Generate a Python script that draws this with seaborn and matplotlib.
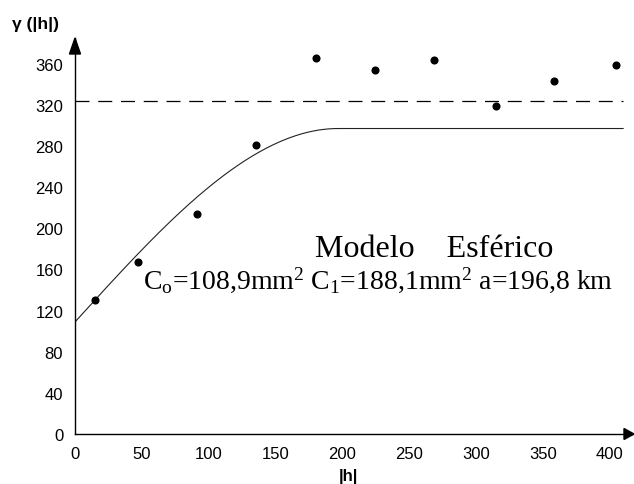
import numpy as np
import pandas as pd
import matplotlib
matplotlib.use("Agg")
import matplotlib.pyplot as plt
from matplotlib.patches import Polygon
import seaborn as sns

# Experimental semivariogram (lag |h| in km, semivariance in mm^2)
lags = [14.7, 46.9, 91.2, 135.1, 180.2, 224.3, 268.2, 314.5, 358.4, 404.5]
gamma = [130.0, 167.0, 213.8, 280.5, 365.5, 354.2, 363.9, 318.8, 343.2, 358.7]

# Sample variance (dashed reference line)
sample_variance = 324.0

# Fitted spherical model parameters
C0 = 108.9
C1 = 188.1
a_range = 196.8
h_max = 410.0

x_ticks = [0, 50, 100, 150, 200, 250, 300, 350, 400]
y_ticks = [0, 40, 80, 120, 160, 200, 240, 280, 320, 360]

sns.set_style("white")
plt.rcParams["font.family"] = ["Liberation Sans", "DejaVu Sans"]
plt.rcParams["text.color"] = "black"
plt.rcParams["mathtext.fontset"] = "custom"
plt.rcParams["mathtext.rm"] = "Liberation Serif"
plt.rcParams["mathtext.it"] = "Liberation Serif:italic"


def spherical(h, c0, c1, a):
    h = np.asarray(h, dtype=float)
    r = np.clip(h / a, 0, 1)
    return c0 + c1 * (1.5 * r - 0.5 * r ** 3)


h_model = np.linspace(0, h_max, 400)
model_df = pd.DataFrame({"h": h_model, "gamma": spherical(h_model, C0, C1, a_range)})
var_df = pd.DataFrame({"h": [0, h_max], "gamma": [sample_variance, sample_variance]})
pts_df = pd.DataFrame({"h": lags, "gamma": gamma})

fig = plt.figure(figsize=(6.34, 4.85), dpi=100)
ax = fig.add_axes([75 / 634, 50 / 485, 559 / 634, 396 / 485])

sns.lineplot(data=var_df, x="h", y="gamma", ax=ax, color="black", lw=0.9,
             linestyle=(0, (11.2, 7.0)))
sns.lineplot(data=model_df, x="h", y="gamma", ax=ax, color="#222222", lw=0.8)
sns.scatterplot(data=pts_df, x="h", y="gamma", ax=ax, color="black", s=34,
                edgecolor="black", linewidth=0, zorder=5)

ax.set_xlim(0, 418)
ax.set_ylim(0, 385)
ax.set_xticks(x_ticks)
ax.set_yticks(y_ticks)
ax.set_xticklabels([str(t) for t in x_ticks])
ax.set_yticklabels([str(t) for t in y_ticks])
ax.tick_params(axis="both", direction="in", length=4.5, width=0.8, color="black",
               labelsize=12, labelcolor="black")
ax.tick_params(axis="y", pad=8.5)
ax.tick_params(axis="x", pad=8.5)
ax.set_xlabel("")
ax.set_ylabel("")

for side in ["top", "right"]:
    ax.spines[side].set_visible(False)
for side in ["left", "bottom"]:
    ax.spines[side].set_color("black")
    ax.spines[side].set_linewidth(1.0)

# Arrow heads at the ends of both axes (axes fraction coordinates)
hx = 5.5 / 559
hy = 16 / 396
ax.add_patch(Polygon([[0 - hx, 1 - hy], [0 + hx, 1 - hy], [0, 1.0]], closed=True,
                     transform=ax.transAxes, color="black", clip_on=False, zorder=6))
wy = 5.5 / 396
wx = 10 / 559
ax.add_patch(Polygon([[1 - wx, -wy], [1 - wx, wy], [1.0, 0]], closed=True,
                     transform=ax.transAxes, color="black", clip_on=False, zorder=6))

# Axis titles
fig.text(12 / 634, 1 - 25 / 485, "γ (|h|)", fontsize=12.5, fontweight="bold",
         ha="left", va="center", color="black")
fig.text(348 / 634, 1 - 477 / 485, "|h|", fontsize=12, fontweight="bold",
         ha="center", va="center", color="black")

# Model annotation
ax.text(179.4, 173.2, "Modelo    Esférico", family="Liberation Serif", fontsize=23,
        ha="left", va="baseline", color="black")
ax.text(50.8, 142.0,
        r"C$_{\mathrm{o}}$=108,9mm$^{\mathrm{2}}$ C$_{\mathrm{1}}$=188,1mm$^{\mathrm{2}}$ a=196,8 km",
        family="Liberation Serif", fontsize=20, ha="left", va="baseline", color="black")

fig.savefig("out.png", dpi=100)
